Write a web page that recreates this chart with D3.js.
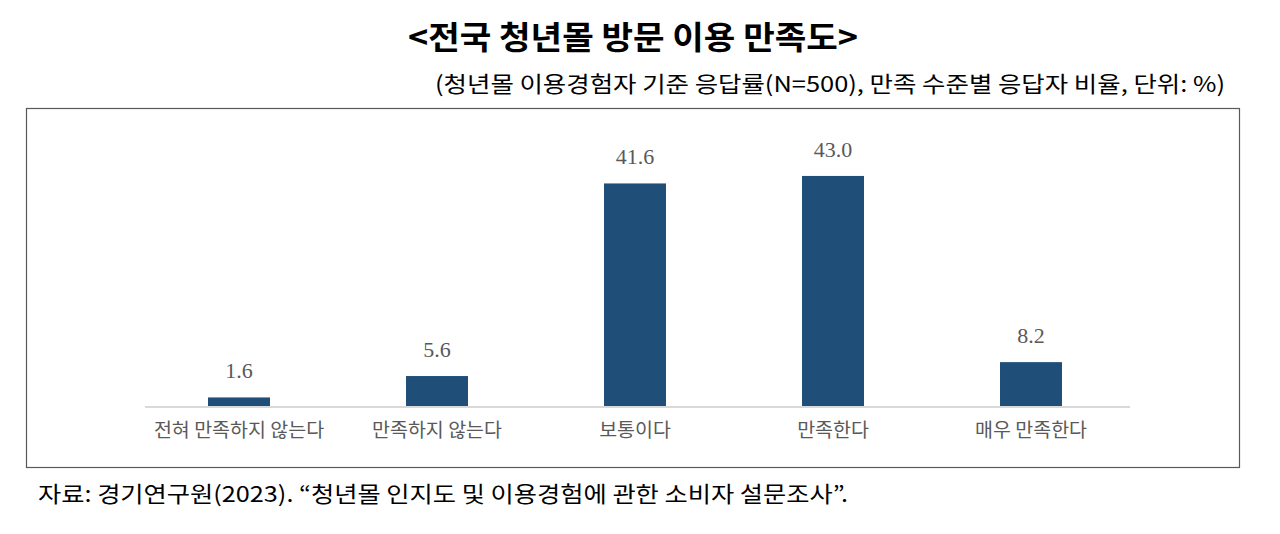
<!DOCTYPE html>
<html><head><meta charset="utf-8">
<script src="https://cdn.jsdelivr.net/npm/d3@7"></script>
<style>body{margin:0;background:#fff;}svg{display:block;}</style>
</head><body>
<svg id="c" width="1280" height="534"></svg>
<script>
const categories = ["전혀 만족하지 않는다","만족하지 않는다","보통이다","만족한다","매우 만족한다"];
const values = [1.6, 5.6, 41.6, 43.0, 8.2];
const title = "<전국 청년몰 방문 이용 만족도>";
const subtitle = "(청년몰 이용경험자 기준 응답률(N=500), 만족 수준별 응답자 비율, 단위: %)";
const source = "자료: 경기연구원(2023). “청년몰 인지도 및 이용경험에 관한 소비자 설문조사”.";

const svg = d3.select("#c");
const kfont = "'Noto Sans CJK KR','Noto Sans',sans-serif";
const sfont = "'Liberation Serif','DejaVu Serif',serif";

svg.append("text").attr("x",408).attr("y",49)
  .attr("font-family",kfont).attr("font-weight",700).attr("font-size",32)
  .attr("fill","#000").attr("textLength",450).attr("lengthAdjust","spacingAndGlyphs").text(title);
svg.append("text").attr("x",1225).attr("y",92).attr("text-anchor","end")
  .attr("font-family",kfont).attr("font-size",22).attr("fill","#000")
  .attr("textLength",790).attr("lengthAdjust","spacingAndGlyphs").text(subtitle);

svg.append("rect").attr("x",26.5).attr("y",108.5).attr("width",1213).attr("height",359)
  .attr("fill","none").attr("stroke","#595959").attr("stroke-width",1.2);

const x = d3.scaleBand().domain(categories).range([140,1130]).paddingInner(0.687).paddingOuter(0.3435);
const y = d3.scaleLinear().domain([0,50]).range([406,138.5]);

svg.selectAll(".bar").data(values).join("rect").attr("class","bar")
  .attr("x",(d,i)=>x(categories[i])).attr("width",x.bandwidth())
  .attr("y",d=>y(d)).attr("height",d=>y(0)-y(d)).attr("fill","#1f4e79");

svg.append("line").attr("x1",145).attr("x2",1130).attr("y1",y(0)+1).attr("y2",y(0)+1)
  .attr("stroke","#d9d9d9").attr("stroke-width",2);

svg.selectAll(".val").data(values).join("text").attr("class","val")
  .attr("x",(d,i)=>x(categories[i])+x.bandwidth()/2).attr("y",d=>y(d)-19)
  .attr("text-anchor","middle").attr("font-family",sfont).attr("font-size",22)
  .attr("fill","#595959").text(d=>d.toFixed(1));

const xa = svg.append("g").attr("transform",`translate(0,${y(0)})`)
  .call(d3.axisBottom(x).tickSize(0).tickPadding(17));
xa.select(".domain").remove();
xa.selectAll("text").attr("font-family",kfont).attr("font-size",19.5).attr("fill","#595959");

svg.append("text").attr("x",38).attr("y",502).attr("font-family",kfont).attr("font-size",22)
  .attr("fill","#000").attr("textLength",810).attr("lengthAdjust","spacingAndGlyphs").text(source);
</script>
</body></html>
